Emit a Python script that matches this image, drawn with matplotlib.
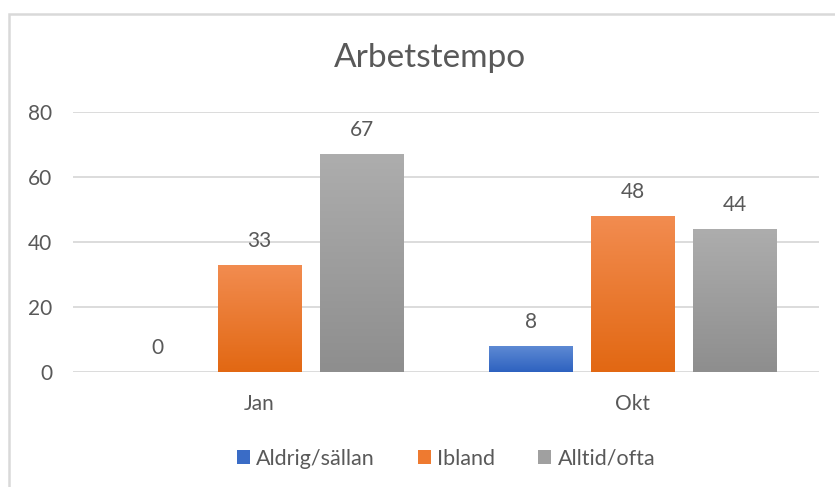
import matplotlib.pyplot as plt
import matplotlib.colors as mcolors
import numpy as np
from matplotlib.patches import Rectangle

# Chart data
categories = ["Jan", "Okt"]
series_names = ["Aldrig/sällan", "Ibland", "Alltid/ofta"]
aldrig = [0, 8]
ibland = [33, 48]
alltid = [67, 44]

# gradient colours (top, bottom) per series
grad_colors = [("#5f8bd4", "#2e62c0"), ("#f28c50", "#e26813"), ("#adadad", "#8e8e8e")]
legend_colors = ["#3a6cc6", "#ee7a30", "#a0a0a0"]
text_color = "#595959"

plt.rcParams['font.family'] = ['Lato', 'DejaVu Sans']

fig = plt.figure(figsize=(8.35, 4.87), dpi=100)
ax = fig.add_axes([0.0874, 0.236, 0.8936, 0.534])

x = np.arange(len(categories))
width = 0.225
step = 0.2735

for i, vals in enumerate([aldrig, ibland, alltid]):
    offs = (i - 1) * step
    bars = ax.bar(x + offs, vals, width, color=legend_colors[i], label=series_names[i], zorder=2)
    cmap = mcolors.LinearSegmentedColormap.from_list("g%d" % i, [grad_colors[i][1], grad_colors[i][0]])
    for b, v in zip(bars, vals):
        if v > 0:
            grad = np.linspace(0, 1, 100).reshape(-1, 1)
            im = ax.imshow(grad, cmap=cmap, aspect='auto', origin='lower',
                           extent=[b.get_x(), b.get_x() + b.get_width(), 0, v], zorder=3)
            im.set_clip_path(b)
        ax.annotate(str(v), (b.get_x() + b.get_width() / 2, v), xytext=(0, 10),
                    textcoords='offset points', ha='center', va='bottom',
                    fontsize=15, color=text_color)

ax.set_xlim(-0.5, 1.5)
ax.set_ylim(0, 80)
ax.set_yticks([0, 20, 40, 60, 80])
ax.set_xticks(x)
ax.set_xticklabels(categories)
ax.tick_params(length=0, labelsize=15, labelcolor=text_color)
ax.tick_params(axis='y', pad=15)
ax.tick_params(axis='x', pad=16)
ax.grid(axis='y', color='#d9d9d9', linewidth=1.3, zorder=0)
ax.set_axisbelow(True)
for s in ax.spines.values():
    s.set_visible(False)

fig.text(0.515, 0.88, "Arbetstempo", ha='center', va='center', fontsize=24, color=text_color)

leg = ax.legend(loc='upper center', bbox_to_anchor=(0.5, -0.22), ncol=3, frameon=False,
                fontsize=15.5, handlelength=0.6, handleheight=0.6, handletextpad=0.3,
                columnspacing=2.0, labelcolor=text_color)

# outer chart border (left and top visible)
fig.patches.append(Rectangle((8.5 / 835, -0.05), 1.1, 1.05 - 13.5 / 487, transform=fig.transFigure,
                             fill=False, edgecolor='#d9d9d9', linewidth=1.8))

fig.savefig("out.png", dpi=100)
